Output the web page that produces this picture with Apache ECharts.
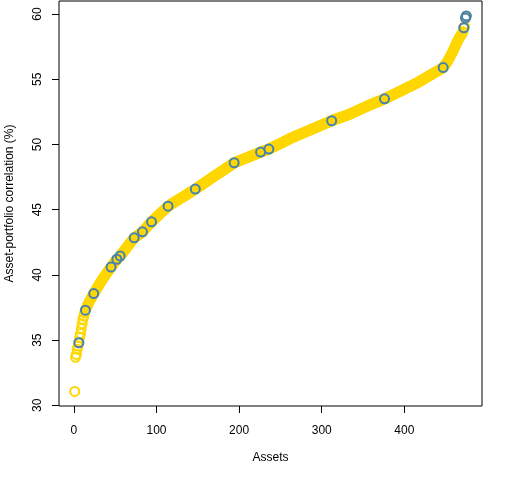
<!DOCTYPE html>
<html>
<head>
<meta charset="utf-8">
<script src="https://cdn.jsdelivr.net/npm/echarts@6/dist/echarts.min.js"></script>
<style>
  html, body { margin: 0; padding: 0; background: #fff; }
  #chart { width: 512px; height: 480px; }
</style>
</head>
<body>
<div id="chart"></div>
<script>
// asset-portfolio correlation (%) for each asset, sorted ascending (asset 1..475)
var correlation = [
    31.07, 33.68, 33.9, 34.3, 34.55, 34.8, 35.2, 35.5, 35.9, 36.25,
    36.6, 36.85, 37.1, 37.3, 37.45, 37.6, 37.72, 37.85, 37.98, 38.1,
    38.22, 38.34, 38.45, 38.57, 38.66, 38.77, 38.88, 38.98, 39.08, 39.19,
    39.29, 39.39, 39.5, 39.6, 39.69, 39.79, 39.88, 39.98, 40.07, 40.16,
    40.25, 40.34, 40.43, 40.52, 40.6, 40.68, 40.77, 40.86, 40.95, 41.03,
    41.11, 41.2, 41.26, 41.33, 41.39, 41.45, 41.53, 41.61, 41.7, 41.78,
    41.86, 41.94, 42.03, 42.11, 42.19, 42.27, 42.35, 42.43, 42.51, 42.6,
    42.68, 42.76, 42.84, 42.88, 42.93, 42.97, 43.02, 43.06, 43.11, 43.15,
    43.2, 43.25, 43.3, 43.37, 43.44, 43.51, 43.58, 43.65, 43.72, 43.79,
    43.86, 43.93, 44.0, 44.07, 44.13, 44.19, 44.25, 44.31, 44.37, 44.43,
    44.49, 44.55, 44.61, 44.67, 44.73, 44.79, 44.85, 44.91, 44.97, 45.03,
    45.09, 45.15, 45.21, 45.27, 45.31, 45.35, 45.39, 45.43, 45.47, 45.51,
    45.55, 45.59, 45.63, 45.67, 45.71, 45.75, 45.79, 45.82, 45.86, 45.9,
    45.94, 45.98, 46.02, 46.06, 46.1, 46.14, 46.18, 46.22, 46.26, 46.3,
    46.34, 46.38, 46.42, 46.46, 46.5, 46.54, 46.58, 46.62, 46.66, 46.71,
    46.75, 46.79, 46.84, 46.88, 46.92, 46.97, 47.01, 47.05, 47.1, 47.14,
    47.18, 47.23, 47.27, 47.31, 47.36, 47.4, 47.44, 47.49, 47.53, 47.57,
    47.62, 47.66, 47.7, 47.74, 47.78, 47.82, 47.87, 47.91, 47.95, 47.99,
    48.04, 48.08, 48.12, 48.17, 48.21, 48.25, 48.29, 48.33, 48.38, 48.42,
    48.46, 48.5, 48.55, 48.6, 48.62, 48.65, 48.67, 48.7, 48.72, 48.75,
    48.78, 48.8, 48.83, 48.85, 48.88, 48.9, 48.93, 48.95, 48.98, 49.01,
    49.03, 49.06, 49.08, 49.11, 49.13, 49.16, 49.18, 49.21, 49.24, 49.26,
    49.29, 49.31, 49.34, 49.36, 49.39, 49.42, 49.44, 49.47, 49.49, 49.51,
    49.54, 49.56, 49.58, 49.6, 49.63, 49.65, 49.68, 49.71, 49.74, 49.77,
    49.8, 49.84, 49.87, 49.9, 49.93, 49.96, 49.99, 50.02, 50.05, 50.08,
    50.12, 50.15, 50.18, 50.21, 50.24, 50.27, 50.3, 50.33, 50.36, 50.4,
    50.43, 50.46, 50.49, 50.52, 50.55, 50.58, 50.6, 50.63, 50.66, 50.69,
    50.71, 50.74, 50.77, 50.79, 50.82, 50.85, 50.87, 50.9, 50.93, 50.96,
    50.98, 51.01, 51.04, 51.06, 51.09, 51.12, 51.14, 51.17, 51.2, 51.23,
    51.25, 51.28, 51.31, 51.33, 51.36, 51.39, 51.41, 51.44, 51.47, 51.5,
    51.52, 51.55, 51.58, 51.6, 51.63, 51.66, 51.68, 51.71, 51.74, 51.76,
    51.79, 51.82, 51.85, 51.87, 51.9, 51.92, 51.95, 51.97, 51.99, 52.01,
    52.03, 52.05, 52.08, 52.1, 52.12, 52.14, 52.16, 52.19, 52.21, 52.23,
    52.26, 52.28, 52.31, 52.33, 52.36, 52.39, 52.42, 52.45, 52.48, 52.5,
    52.53, 52.56, 52.59, 52.62, 52.65, 52.68, 52.71, 52.74, 52.77, 52.8,
    52.83, 52.86, 52.89, 52.92, 52.95, 52.97, 53.0, 53.03, 53.05, 53.08,
    53.1, 53.13, 53.16, 53.18, 53.21, 53.24, 53.26, 53.29, 53.31, 53.34,
    53.37, 53.39, 53.42, 53.45, 53.47, 53.5, 53.53, 53.56, 53.59, 53.62,
    53.66, 53.69, 53.72, 53.75, 53.78, 53.81, 53.84, 53.87, 53.9, 53.93,
    53.97, 54.0, 54.03, 54.06, 54.09, 54.12, 54.15, 54.18, 54.21, 54.24,
    54.28, 54.31, 54.34, 54.37, 54.4, 54.43, 54.46, 54.49, 54.52, 54.55,
    54.59, 54.62, 54.65, 54.68, 54.71, 54.75, 54.78, 54.82, 54.86, 54.89,
    54.93, 54.97, 55.0, 55.04, 55.08, 55.12, 55.15, 55.19, 55.23, 55.26,
    55.3, 55.34, 55.38, 55.41, 55.45, 55.49, 55.52, 55.56, 55.6, 55.63,
    55.67, 55.71, 55.75, 55.78, 55.82, 55.86, 55.9, 55.98, 56.07, 56.16,
    56.26, 56.36, 56.46, 56.57, 56.68, 56.8, 56.92, 57.04, 57.17, 57.3,
    57.45, 57.6, 57.74, 57.88, 58.0, 58.12, 58.22, 58.32, 58.42, 58.52,
    58.65, 58.95, 59.05, 59.7, 59.85
];

// assets (1-based position) drawn with the blue outline
var highlighted = [6, 14, 24, 45, 52, 56, 73, 83, 94, 114, 147, 194, 226, 236, 312, 376, 447, 472, 474, 475];

var xTicks = [0, 100, 200, 300, 400];
var yTicks = [30, 35, 40, 45, 50, 55, 60];

var goldColor = '#FFD700';
var blueColor = '#4682B4';
var fontName = '"Liberation Sans", Arial, sans-serif';

var allPoints = correlation.map(function (v, i) { return [i + 1, v]; });
var bluePoints = highlighted.map(function (k) { return [k, correlation[k - 1]]; });

var chart = echarts.init(document.getElementById('chart'), null, {renderer: 'canvas'});

var option = {
    animation: false,
    backgroundColor: '#fff',
    grid: {
        left: 59, right: 30, top: 1, bottom: 74,
        outerBoundsMode: 'none',
        containLabel: false,
        show: true,
        borderColor: '#000',
        borderWidth: 1,
        backgroundColor: 'transparent'
    },
    xAxis: {
        type: 'value',
        min: -18,
        max: 494,
        name: 'Assets',
        nameLocation: 'middle',
        nameGap: 46,
        nameTextStyle: {color: '#000', fontSize: 12, fontFamily: fontName},
        axisLine: {show: false, onZero: false},
        splitLine: {show: false},
        axisTick: {show: true, inside: false, length: 7, lineStyle: {color: '#000'}, customValues: xTicks},
        axisLabel: {color: '#000', fontSize: 12, fontFamily: fontName, margin: 19, customValues: xTicks}
    },
    yAxis: {
        type: 'value',
        min: 29.95,
        max: 61.0,
        name: 'Asset-portfolio correlation (%)',
        nameLocation: 'middle',
        nameGap: 43,
        nameTextStyle: {color: '#000', fontSize: 12, fontFamily: fontName},
        axisLine: {show: false, onZero: false},
        splitLine: {show: false},
        axisTick: {show: true, inside: false, length: 7, lineStyle: {color: '#000'}, customValues: yTicks},
        axisLabel: {
            color: '#000', fontSize: 12, fontFamily: fontName, margin: 15, rotate: 90,
            align: 'center', verticalAlign: 'bottom', customValues: yTicks
        }
    },
    series: [
        {
            type: 'scatter',
            data: allPoints,
            symbol: 'circle',
            symbolSize: 9,
            itemStyle: {color: 'rgba(0,0,0,0)', borderColor: goldColor, borderWidth: 2, opacity: 1},
            emphasis: {disabled: true},
            silent: true
        },
        {
            type: 'scatter',
            data: bluePoints,
            symbol: 'circle',
            symbolSize: 9,
            itemStyle: {color: 'rgba(0,0,0,0)', borderColor: blueColor, borderWidth: 2, opacity: 1},
            emphasis: {disabled: true},
            silent: true
        }
    ]
};

chart.setOption(option);
</script>
</body>
</html>
